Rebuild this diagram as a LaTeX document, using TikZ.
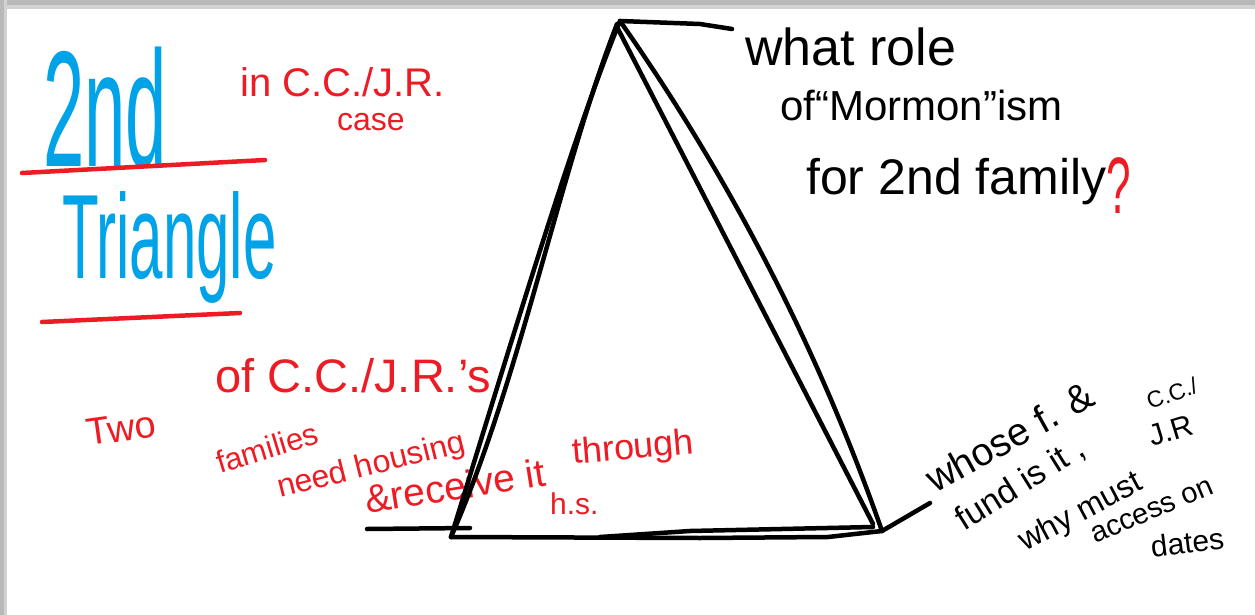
\documentclass[tikz,border=0pt]{standalone}
\usepackage{fontspec}
\setmainfont{Liberation Sans}
\definecolor{pblue}{RGB}{0,162,232}
\definecolor{pred}{RGB}{237,28,36}
\begin{document}
\begin{tikzpicture}[x=1pt,y=-1pt,
  stroke/.style={line width=4.5pt, line cap=round, line join=round},
  blk/.style={stroke, draw=black},
  redline/.style={stroke, draw=pred},
  lbl/.style={inner sep=0pt, anchor=base west},
  bluetxt/.style={lbl, text=pblue},
  redtxt/.style={lbl, text=pred},
  blktxt/.style={lbl, text=black}]
\useasboundingbox (0,0) rectangle (1255,615);
\fill[white] (0,0) rectangle (1255,615);
\fill[gray!35] (0,0) rectangle (1255,9);
\fill[gray!55] (0,0) rectangle (1255,5);
\fill[gray!35] (0,0) rectangle (7,615);
\fill[gray!55] (0,0) rectangle (4,615);

% title
\node[bluetxt, xscale=0.45, font=\fontsize{165}{165}\selectfont] (t2nd) at (43,166) {2nd};
\node[bluetxt, xscale=0.5, font=\fontsize{120}{120}\selectfont] (ttri) at (62,278) {Triangle};
\coordinate (u1a) at (22,173); \coordinate (u1b) at (265,160);
\coordinate (u2a) at (42,322); \coordinate (u2b) at (240,313);
\draw[redline] (u1a) -- (u1b);
\draw[redline] (u2a) -- (u2b);

% red notes
\node[redtxt, font=\fontsize{40}{40}\selectfont] (inc) at (240,97) {in C.C./J.R.};
\node[redtxt, font=\fontsize{32}{32}\selectfont] (case) at (337,131) {case};
\node[redtxt, font=\fontsize{47}{47}\selectfont] (ofcc) at (215,392) {of C.C./J.R.’s};
\node[redtxt, rotate=8, font=\fontsize{38}{38}\selectfont] (two) at (88,446) {Two};
\node[redtxt, rotate=17, font=\fontsize{31}{31}\selectfont] (fam) at (220,474) {families};
\node[redtxt, rotate=14, font=\fontsize{32}{32}\selectfont] (need) at (280,498) {need housing};
\node[redtxt, rotate=9, font=\fontsize{39}{39}\selectfont] (recv) at (367,514) {\&receive it};
\node[redtxt, rotate=5, font=\fontsize{36}{36}\selectfont] (thr) at (573,464) {through};
\node[redtxt, font=\fontsize{30}{30}\selectfont] (hs) at (550,514) {h.s.};

% black notes
\node[blktxt, font=\fontsize{52}{52}\selectfont] (role) at (745,66) {what role};
\node[blktxt, font=\fontsize{42}{42}\selectfont] (mor) at (780,121) {of“Mormon”ism};
\node[blktxt, font=\fontsize{50}{50}\selectfont] (fam2) at (806,194) {for 2nd family};
\node[redtxt, xscale=0.55, font=\fontsize{80}{80}\selectfont] (q) at (1106,213) {?};

\node[blktxt, rotate=29, font=\fontsize{39}{39}\selectfont] (whose) at (935,494) {whose f. \&};
\node[blktxt, rotate=32, font=\fontsize{34}{34}\selectfont] (fund) at (964,532) {fund is it ,};
\node[blktxt, rotate=20, font=\fontsize{23}{23}\selectfont] (cc) at (1150,410) {C.C./};
\node[blktxt, rotate=17, font=\fontsize{30}{30}\selectfont] (jr) at (1152,447) {J.R};
\node[blktxt, rotate=28, font=\fontsize{32}{32}\selectfont] (why) at (1025,552) {why must};
\node[blktxt, rotate=23, font=\fontsize{29}{29}\selectfont] (acc) at (1095,544) {access on};
\node[blktxt, rotate=7, font=\fontsize{30}{30}\selectfont] (dates) at (1152,558) {dates};

% triangle
\coordinate (apex) at (620,21);
\coordinate (bl) at (451,537);
\coordinate (br) at (882,531);
\draw[blk] (apex) .. controls (575,130) and (515,330) .. (bl);
\draw[blk] (617,24) .. controls (560,170) and (520,380) .. (bl);
\draw[blk] (apex) .. controls (730,178) and (818,348) .. (br);
\draw[blk] (617,27) -- (873,524);
\draw[blk] (bl) -- (700,538) -- (828,537) -- (br);
\draw[blk] (600,537) -- (690,531) -- (873,527);

% leader lines
\coordinate (lfree) at (367,529);
\draw[blk] (apex) -- (700,24) -- (732,29);
\draw[blk] (lfree) -- (470,528);
\draw[blk] (br) -- (930,503);
\end{tikzpicture}
\end{document}
